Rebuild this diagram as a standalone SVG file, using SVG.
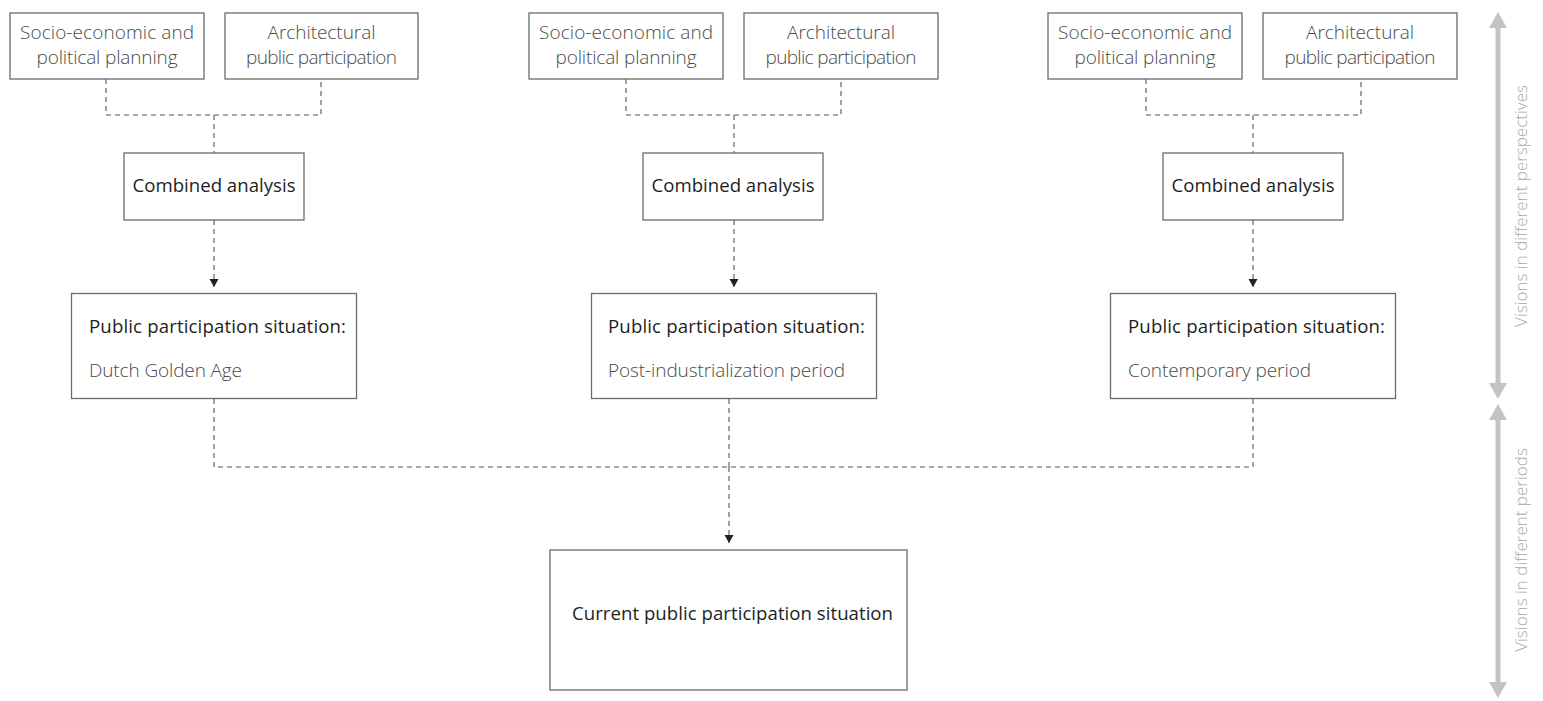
<svg xmlns="http://www.w3.org/2000/svg" width="1543" height="701" viewBox="0 0 1543 701">
<style>
.box{fill:#fff;stroke:#6b6b6b;stroke-width:1.3}
.lt{font-family:"Open Sans","Liberation Sans",sans-serif;font-weight:300;font-size:19px;fill:#4a4a4a}
.dk{font-family:"Open Sans","Liberation Sans",sans-serif;font-weight:400;font-size:18.6px;fill:#1e1e1e}
.dash{fill:none;stroke:#555;stroke-width:1.1;stroke-dasharray:5 4}
.side{stroke:#c3c3c5;stroke-width:5;fill:none}
.sidet{font-family:"Open Sans","Liberation Sans",sans-serif;font-weight:300;font-size:17px;fill:#a8a8aa}
</style>
<defs>
<marker id="ah" markerWidth="10" markerHeight="10" refX="8" refY="5" orient="auto" markerUnits="userSpaceOnUse">
<path d="M0,0.5 L8,5 L0,9.5 Z" fill="#222"/>
</marker>
</defs>
<g id="connectors">
<path class="dash" d="M106,79 V115 H321 V79 M214,115 V153"/>
<path class="dash" d="M626,79 V115 H841 V79 M734,115 V153"/>
<path class="dash" d="M1146,79 V115 H1361 V79 M1253,115 V153"/>
<path class="dash" d="M214,220 V287" marker-end="url(#ah)"/>
<path class="dash" d="M734,220 V287" marker-end="url(#ah)"/>
<path class="dash" d="M1253,220 V287" marker-end="url(#ah)"/>
<path class="dash" d="M214,399 V467 H1253 V399 M729,399 V467"/>
<path class="dash" d="M729,467 V543" marker-end="url(#ah)"/>
</g>
<g id="n-socio1"><rect class="box" x="10" y="13" width="194" height="66"/><text class="lt" text-anchor="middle" x="107" y="39" textLength="174">Socio-economic and</text><text class="lt" text-anchor="middle" x="107" y="64" textLength="141">political planning</text></g>
<g id="n-arch1"><rect class="box" x="225" y="13" width="193" height="66"/><text class="lt" text-anchor="middle" x="321.5" y="39" textLength="108">Architectural</text><text class="lt" text-anchor="middle" x="321.5" y="64" textLength="151">public participation</text></g>
<g id="n-socio2"><rect class="box" x="529" y="13" width="194" height="66"/><text class="lt" text-anchor="middle" x="626" y="39" textLength="174">Socio-economic and</text><text class="lt" text-anchor="middle" x="626" y="64" textLength="141">political planning</text></g>
<g id="n-arch2"><rect class="box" x="744" y="13" width="194" height="66"/><text class="lt" text-anchor="middle" x="841" y="39" textLength="108">Architectural</text><text class="lt" text-anchor="middle" x="841" y="64" textLength="151">public participation</text></g>
<g id="n-socio3"><rect class="box" x="1048" y="13" width="194" height="66"/><text class="lt" text-anchor="middle" x="1145" y="39" textLength="174">Socio-economic and</text><text class="lt" text-anchor="middle" x="1145" y="64" textLength="141">political planning</text></g>
<g id="n-arch3"><rect class="box" x="1263" y="13" width="194" height="66"/><text class="lt" text-anchor="middle" x="1360" y="39" textLength="108">Architectural</text><text class="lt" text-anchor="middle" x="1360" y="64" textLength="151">public participation</text></g>
<g id="n-comb1"><rect class="box" x="124" y="153" width="180" height="67"/><text class="dk" text-anchor="middle" x="214" y="192" textLength="163">Combined analysis</text></g>
<g id="n-comb2"><rect class="box" x="643" y="153" width="180" height="67"/><text class="dk" text-anchor="middle" x="733" y="192" textLength="163">Combined analysis</text></g>
<g id="n-comb3"><rect class="box" x="1163" y="153" width="180" height="67"/><text class="dk" text-anchor="middle" x="1253" y="192" textLength="163">Combined analysis</text></g>
<g id="n-pub1"><rect class="box" x="71.5" y="293.5" width="285" height="105"/><text class="dk" x="89" y="333" textLength="257">Public participation situation:</text><text class="lt" x="89" y="377" textLength="153">Dutch Golden Age</text></g>
<g id="n-pub2"><rect class="box" x="591.5" y="293.5" width="285" height="105"/><text class="dk" x="608" y="333" textLength="257">Public participation situation:</text><text class="lt" x="608" y="377" textLength="237">Post-industrialization period</text></g>
<g id="n-pub3"><rect class="box" x="1110.5" y="293.5" width="285" height="105"/><text class="dk" x="1128" y="333" textLength="257">Public participation situation:</text><text class="lt" x="1128" y="377" textLength="183">Contemporary period</text></g>
<g id="n-current"><rect class="box" x="550" y="550" width="357" height="140"/><text class="dk" x="572" y="620" textLength="321">Current public participation situation</text></g>
<g id="side-axis">
<line class="side" x1="1498" y1="24" x2="1498" y2="387"/>
<path d="M1489,28 L1498,12 L1507,28 Z" fill="#c3c3c5"/>
<path d="M1489,383 L1498,399 L1507,383 Z" fill="#c3c3c5"/>
<line class="side" x1="1498" y1="416" x2="1498" y2="686"/>
<path d="M1489,420 L1498,404 L1507,420 Z" fill="#c3c3c5"/>
<path d="M1489,682 L1498,698 L1507,682 Z" fill="#c3c3c5"/>
<text class="sidet" text-anchor="middle" transform="translate(1527,206) rotate(-90)">Visions in different perspectives</text>
<text class="sidet" text-anchor="middle" transform="translate(1527,550) rotate(-90)">Visions in different periods</text>
</g>
</svg>
